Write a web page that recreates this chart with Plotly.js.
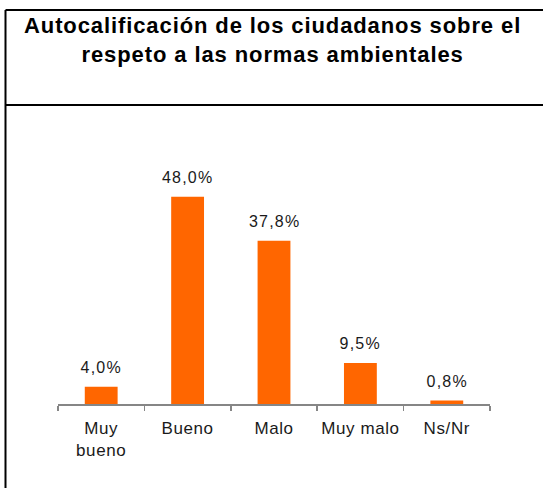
<!DOCTYPE html>
<html>
<head>
<meta charset="utf-8">
<script src="https://cdn.plot.ly/plotly-3.0.1.min.js"></script>
<style>
  html, body { margin: 0; padding: 0; background: #fff; }
  #chart { width: 543px; height: 488px; }
  .gtitle { letter-spacing: 0.9px; }
  g.xtick text { letter-spacing: 0.6px; }
  g.annotation text { letter-spacing: 1.2px; }
</style>
</head>
<body>
<div id="chart"></div>
<script>
const categories = ["Muy<br>bueno", "Bueno", "Malo", "Muy malo", "Ns/Nr"];
const values = [4.0, 48.0, 37.8, 9.5, 0.8];
const valueLabels = ["4,0%", "48,0%", "37,8%", "9,5%", "0,8%"];
const titleText = "Autocalificación de los ciudadanos sobre el<br>respeto a las normas ambientales";

const FONT = "Liberation Sans, Arial, sans-serif";

const trace = {
  type: "bar",
  x: categories,
  y: values,
  marker: { color: "#FF6600", line: { width: 0 } },
  hoverinfo: "skip"
};

const annotations = categories.map((c, i) => ({
  x: c, y: values[i], xref: "x", yref: "y",
  text: valueLabels[i],
  showarrow: false,
  yanchor: "bottom",
  yshift: 9,
  font: { family: FONT, size: 16, color: "#1a1a1a" }
}));

// frame: left/top border and separator below the title (paper coordinates)
const L = 58, R = 490, T = 125, B = 404;
const px = v => (v - L) / (R - L);
const py = v => (B - v) / (B - T);
const shapes = [
  { type: "line", xref: "paper", yref: "paper", x0: px(5.5), x1: px(545), y0: py(10), y1: py(10), line: { color: "#000", width: 2 } },
  { type: "line", xref: "paper", yref: "paper", x0: px(5.5), x1: px(5.5), y0: py(10), y1: py(490), line: { color: "#000", width: 2 } },
  { type: "line", xref: "paper", yref: "paper", x0: px(5.5), x1: px(545), y0: py(105), y1: py(105), line: { color: "#000", width: 2 } }
];

const layout = {
  width: 543, height: 488,
  margin: { l: L, r: 543 - R, t: T, b: 488 - B, pad: 0 },
  paper_bgcolor: "#fff", plot_bgcolor: "#fff",
  showlegend: false,
  bargap: 0.62,
  title: {
    text: titleText,
    font: { family: FONT, size: 22, color: "#000", weight: "bold" },
    xref: "container", yref: "container",
    x: 0.502, xanchor: "center",
    y: 1 - 33 / 488, yanchor: "top"
  },
  xaxis: {
    type: "category",
    showline: true, linecolor: "#868686", linewidth: 1.5,
    ticks: "outside", tickson: "boundaries", ticklen: 5, tickwidth: 1.5, tickcolor: "#868686",
    tickangle: 0,
    ticklabelstandoff: 8,
    tickfont: { family: FONT, size: 17, color: "#1a1a1a" },
    showgrid: false, zeroline: false, fixedrange: true
  },
  yaxis: {
    range: [0, (B - T) / 4.32],
    visible: false, showgrid: false, zeroline: false, fixedrange: true
  },
  annotations: annotations,
  shapes: shapes
};

Plotly.newPlot("chart", [trace], layout, { displayModeBar: false, staticPlot: true });
</script>
</body>
</html>
